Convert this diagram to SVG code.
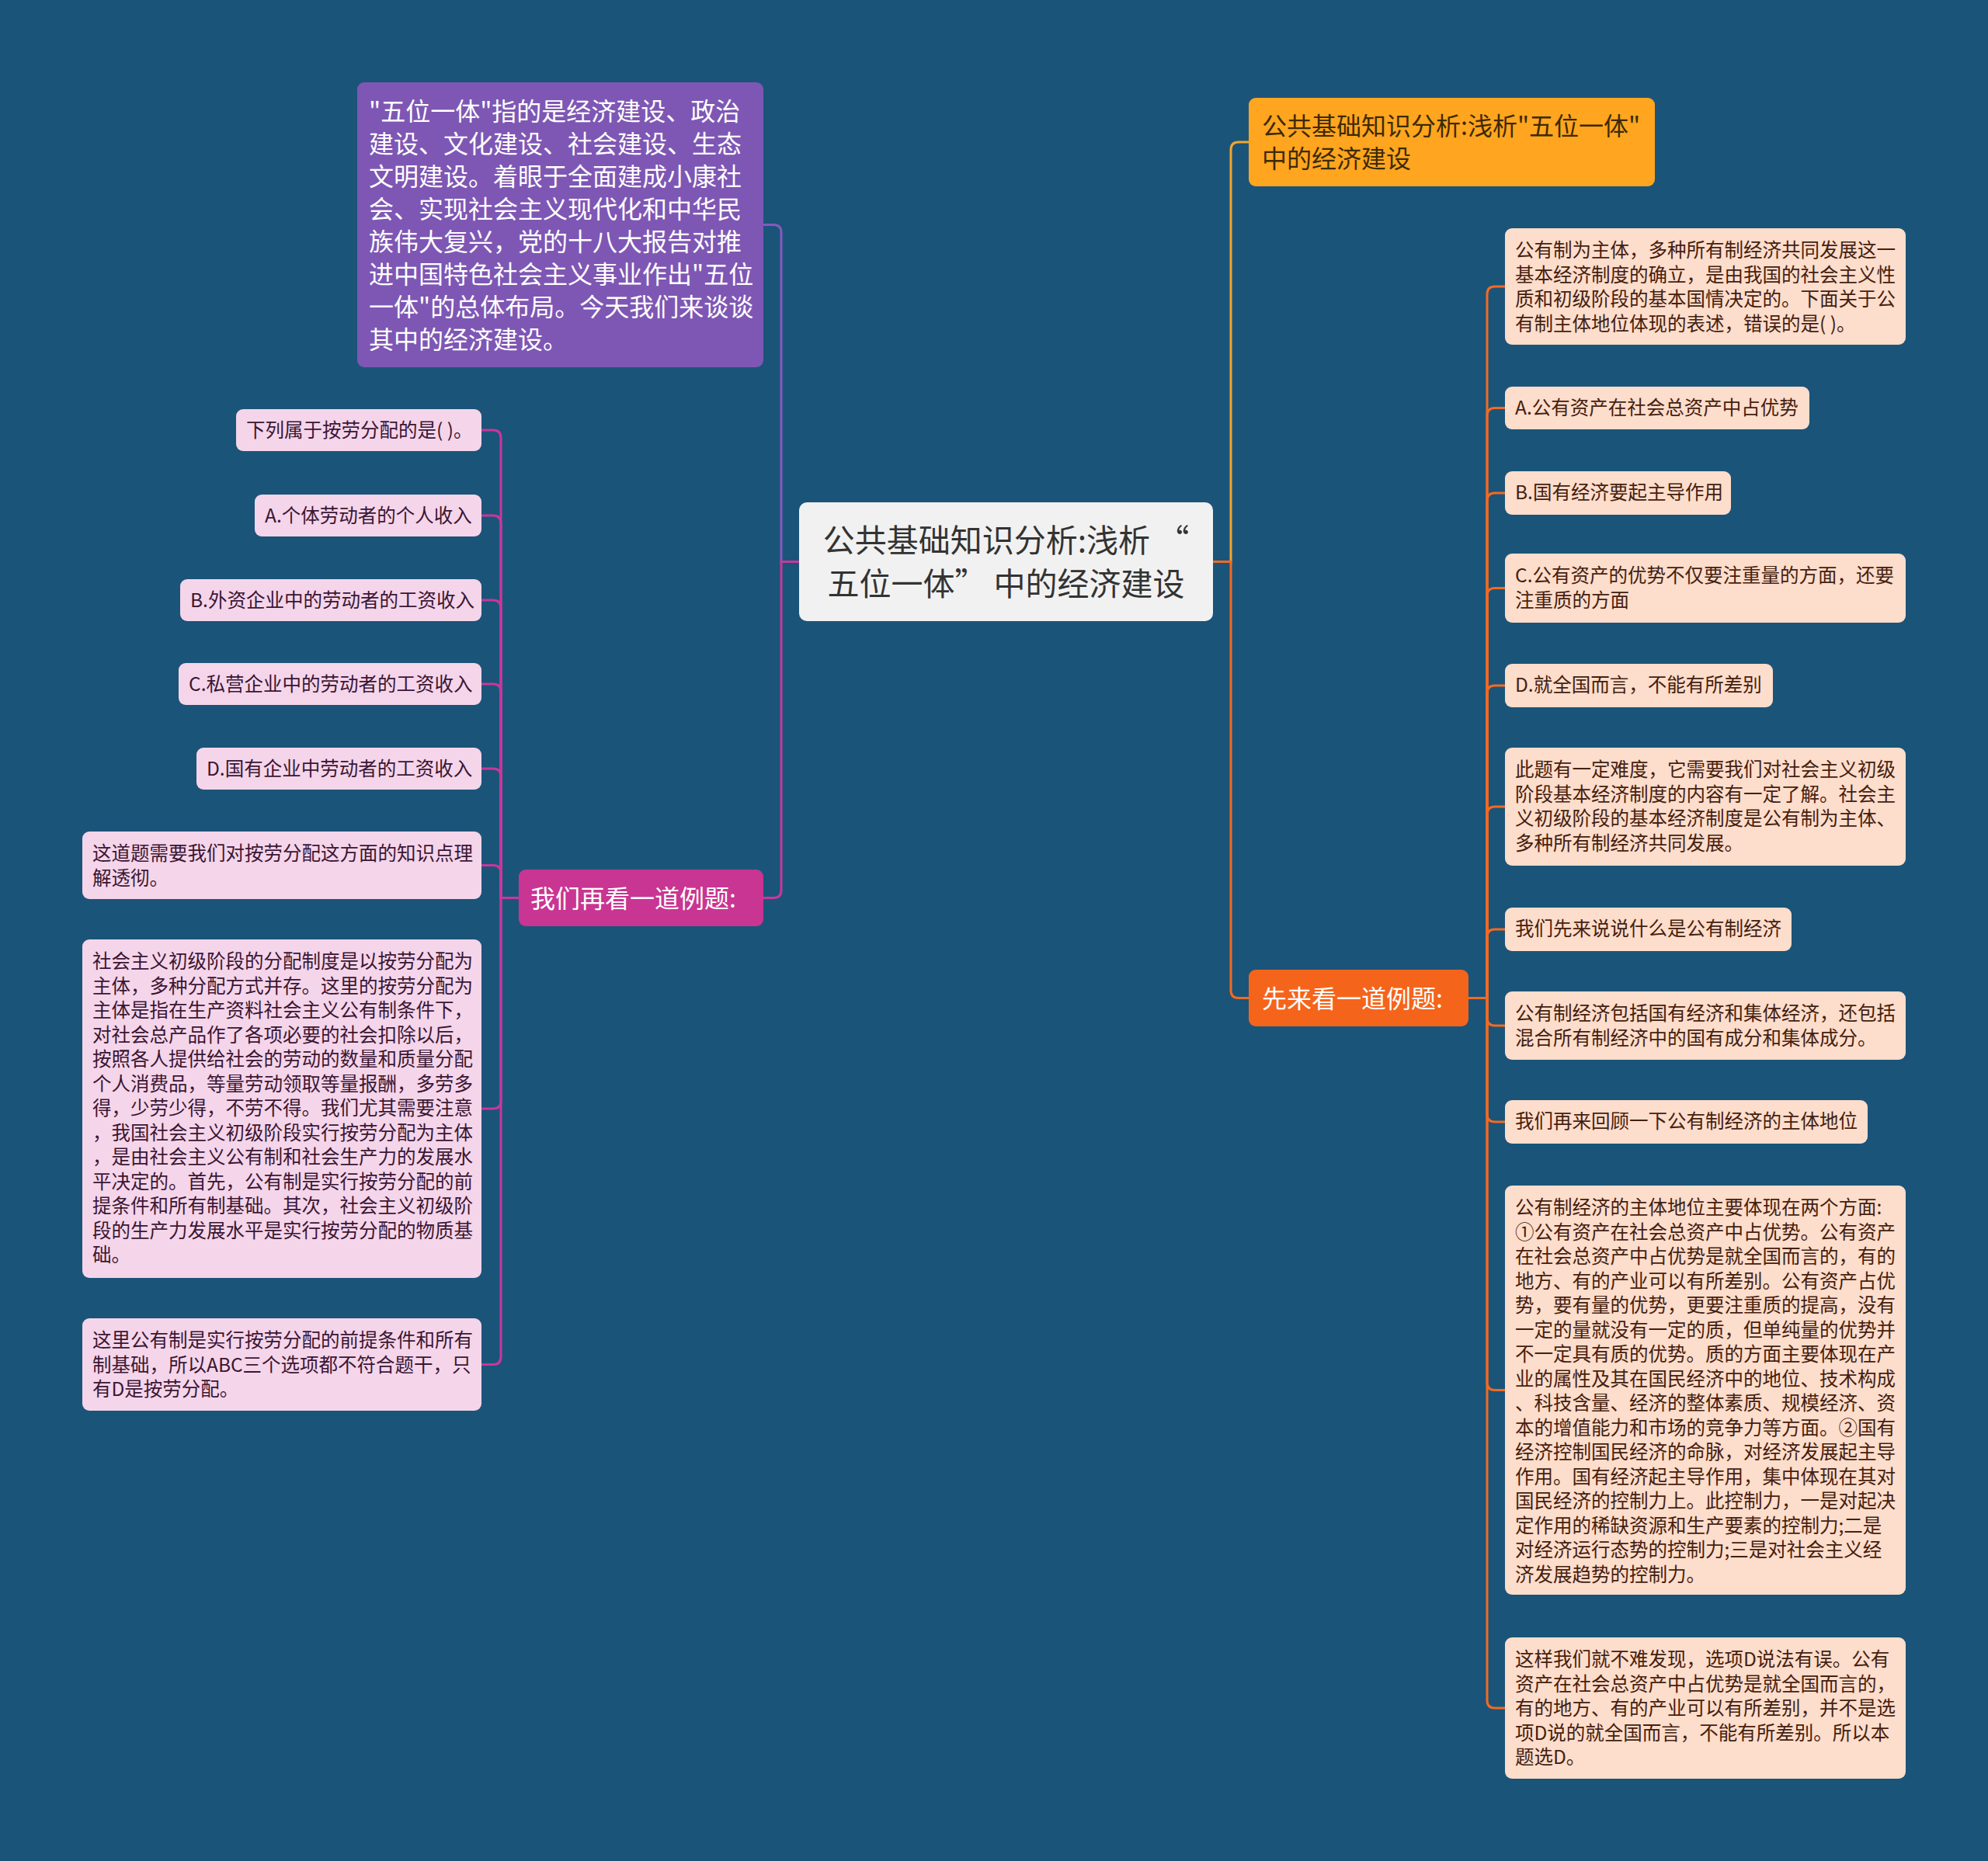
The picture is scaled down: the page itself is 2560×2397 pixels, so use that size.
<svg xmlns="http://www.w3.org/2000/svg" width="2560" height="2397" viewBox="0 0 2560 2397">
<style>
text{font-family:"Noto Sans CJK SC","Noto Sans",sans-serif;}
.c{fill:none;stroke-width:3;}
.cy{stroke:#F2A62A;}
.co{stroke:#F26A22;}
.cp{stroke:#8559BD;}
.cm{stroke:#C9379A;}
.rc{fill:#FDDDCB;}
.rt{font-size:24.5px;fill:#45200F;}
.lc{fill:#F5D5EA;}
.lt{font-size:24.5px;fill:#3A1633;}
.wt{font-size:32px;fill:#FFFFFF;}
</style>
<rect x="0" y="0" width="2560" height="2397" fill="#1B5479"/>
<g id="connectors">
<path class="c cy" d="M1562,723.5 H1585 V193 Q1585,183 1595,183 H1608"/>
<path class="c co" d="M1562,723.5 H1585 V1275.5 Q1585,1285.5 1595,1285.5 H1608"/>
<path class="c cp" d="M1029,723.5 H1006 V299.5 Q1006,289.5 996,289.5 H983"/>
<path class="c cm" d="M1029,723.5 H1006 V1146.5 Q1006,1156.5 996,1156.5 H983"/>
<path class="c co" d="M1891,1285.5 H1915 V379 Q1915,369 1925,369 H1938"/>
<path class="c co" d="M1891,1285.5 H1915 V535.5 Q1915,525.5 1925,525.5 H1938"/>
<path class="c co" d="M1891,1285.5 H1915 V645 Q1915,635 1925,635 H1938"/>
<path class="c co" d="M1891,1285.5 H1915 V767.5 Q1915,757.5 1925,757.5 H1938"/>
<path class="c co" d="M1891,1285.5 H1915 V893 Q1915,883 1925,883 H1938"/>
<path class="c co" d="M1891,1285.5 H1915 V1049 Q1915,1039 1925,1039 H1938"/>
<path class="c co" d="M1891,1285.5 H1915 V1207 Q1915,1197 1925,1197 H1938"/>
<path class="c co" d="M1891,1285.5 H1915 V1311 Q1915,1321 1925,1321 H1938"/>
<path class="c co" d="M1891,1285.5 H1915 V1435 Q1915,1445 1925,1445 H1938"/>
<path class="c co" d="M1891,1285.5 H1915 V1780.5 Q1915,1790.5 1925,1790.5 H1938"/>
<path class="c co" d="M1891,1285.5 H1915 V2190 Q1915,2200 1925,2200 H1938"/>
<path class="c cm" d="M668,1156.5 H645 V564 Q645,554 635,554 H620"/>
<path class="c cm" d="M668,1156.5 H645 V674 Q645,664 635,664 H620"/>
<path class="c cm" d="M668,1156.5 H645 V783 Q645,773 635,773 H620"/>
<path class="c cm" d="M668,1156.5 H645 V891 Q645,881 635,881 H620"/>
<path class="c cm" d="M668,1156.5 H645 V1000 Q645,990 635,990 H620"/>
<path class="c cm" d="M668,1156.5 H645 V1124.5 Q645,1114.5 635,1114.5 H620"/>
<path class="c cm" d="M668,1156.5 H645 V1418 Q645,1428 635,1428 H620"/>
<path class="c cm" d="M668,1156.5 H645 V1747.5 Q645,1757.5 635,1757.5 H620"/>
</g>
<g id="root">
<rect x="1029" y="647" width="533" height="153" rx="10" fill="#F1F1F1"/>
<text font-size="41px" fill="#333333" text-anchor="middle"><tspan x="1295.5" y="710.5">公共基础知识分析:浅析 “</tspan><tspan x="1295.5" y="766.5">五位一体” 中的经济建设</tspan></text>
</g>
<g id="n-intro">
<rect x="460" y="106" width="523" height="367" rx="9" fill="#7E57B4"/>
<text class="wt"><tspan x="475" y="154.7">"五位一体"指的是经济建设、政治</tspan><tspan x="475" y="196.7">建设、文化建设、社会建设、生态</tspan><tspan x="475" y="238.7">文明建设。着眼于全面建成小康社</tspan><tspan x="475" y="280.7">会、实现社会主义现代化和中华民</tspan><tspan x="475" y="322.7">族伟大复兴，党的十八大报告对推</tspan><tspan x="475" y="364.7">进中国特色社会主义事业作出"五位</tspan><tspan x="475" y="406.7">一体"的总体布局。今天我们来谈谈</tspan><tspan x="475" y="448.7">其中的经济建设。</tspan></text>
</g>
<g id="n-title">
<rect x="1608" y="126" width="523" height="114" rx="9" fill="#FFA51F"/>
<text font-size="32px" fill="#3D2A05"><tspan x="1625" y="174">公共基础知识分析:浅析"五位一体"</tspan><tspan x="1625" y="216">中的经济建设</tspan></text>
</g>
<g id="n-example1">
<rect x="1608" y="1249" width="283" height="73" rx="9" fill="#F5641B"/>
<text class="wt" x="1625" y="1297.5">先来看一道例题:</text>
</g>
<g id="n-example2">
<rect x="668" y="1120" width="315" height="73" rx="9" fill="#C93592"/>
<text class="wt" x="683" y="1168.5">我们再看一道例题:</text>
</g>
<g id="r1">
<rect class="rc" x="1938" y="294" width="516" height="150" rx="9"/>
<text class="rt"><tspan x="1951" y="331">公有制为主体，多种所有制经济共同发展这一</tspan><tspan x="1951" y="362.5">基本经济制度的确立，是由我国的社会主义性</tspan><tspan x="1951" y="394">质和初级阶段的基本国情决定的。下面关于公</tspan><tspan x="1951" y="425.5">有制主体地位体现的表述，错误的是( )。</tspan></text>
</g>
<g id="r2">
<rect class="rc" x="1938" y="498" width="392" height="55" rx="9"/>
<text class="rt" x="1951" y="534.3">A.公有资产在社会总资产中占优势</text>
</g>
<g id="r3">
<rect class="rc" x="1938" y="607" width="291" height="56" rx="9"/>
<text class="rt" x="1951" y="643.3">B.国有经济要起主导作用</text>
</g>
<g id="r4">
<rect class="rc" x="1938" y="713" width="516" height="89" rx="9"/>
<text class="rt"><tspan x="1951" y="750">C.公有资产的优势不仅要注重量的方面，还要</tspan><tspan x="1951" y="781.5">注重质的方面</tspan></text>
</g>
<g id="r5">
<rect class="rc" x="1938" y="855" width="345" height="56" rx="9"/>
<text class="rt" x="1951" y="891.3">D.就全国而言，不能有所差别</text>
</g>
<g id="r6">
<rect class="rc" x="1938" y="963" width="516" height="152" rx="9"/>
<text class="rt"><tspan x="1951" y="1000">此题有一定难度，它需要我们对社会主义初级</tspan><tspan x="1951" y="1031.5">阶段基本经济制度的内容有一定了解。社会主</tspan><tspan x="1951" y="1063">义初级阶段的基本经济制度是公有制为主体、</tspan><tspan x="1951" y="1094.5">多种所有制经济共同发展。</tspan></text>
</g>
<g id="r7">
<rect class="rc" x="1938" y="1169" width="369" height="56" rx="9"/>
<text class="rt" x="1951" y="1205.3">我们先来说说什么是公有制经济</text>
</g>
<g id="r8">
<rect class="rc" x="1938" y="1277" width="516" height="88" rx="9"/>
<text class="rt"><tspan x="1951" y="1314">公有制经济包括国有经济和集体经济，还包括</tspan><tspan x="1951" y="1345.5">混合所有制经济中的国有成分和集体成分。</tspan></text>
</g>
<g id="r9">
<rect class="rc" x="1938" y="1417" width="467" height="56" rx="9"/>
<text class="rt" x="1951" y="1453.3">我们再来回顾一下公有制经济的主体地位</text>
</g>
<g id="r10">
<rect class="rc" x="1938" y="1527" width="516" height="527" rx="9"/>
<text class="rt"><tspan x="1951" y="1564">公有制经济的主体地位主要体现在两个方面:</tspan><tspan x="1951" y="1595.5">①公有资产在社会总资产中占优势。公有资产</tspan><tspan x="1951" y="1627">在社会总资产中占优势是就全国而言的，有的</tspan><tspan x="1951" y="1658.5">地方、有的产业可以有所差别。公有资产占优</tspan><tspan x="1951" y="1690">势，要有量的优势，更要注重质的提高，没有</tspan><tspan x="1951" y="1721.5">一定的量就没有一定的质，但单纯量的优势并</tspan><tspan x="1951" y="1753">不一定具有质的优势。质的方面主要体现在产</tspan><tspan x="1951" y="1784.5">业的属性及其在国民经济中的地位、技术构成</tspan><tspan x="1951" y="1816">、科技含量、经济的整体素质、规模经济、资</tspan><tspan x="1951" y="1847.5">本的增值能力和市场的竞争力等方面。②国有</tspan><tspan x="1951" y="1879">经济控制国民经济的命脉，对经济发展起主导</tspan><tspan x="1951" y="1910.5">作用。国有经济起主导作用，集中体现在其对</tspan><tspan x="1951" y="1942">国民经济的控制力上。此控制力，一是对起决</tspan><tspan x="1951" y="1973.5">定作用的稀缺资源和生产要素的控制力;二是</tspan><tspan x="1951" y="2005">对经济运行态势的控制力;三是对社会主义经</tspan><tspan x="1951" y="2036.5">济发展趋势的控制力。</tspan></text>
</g>
<g id="r11">
<rect class="rc" x="1938" y="2109" width="516" height="182" rx="9"/>
<text class="rt"><tspan x="1951" y="2146">这样我们就不难发现，选项D说法有误。公有</tspan><tspan x="1951" y="2177.5">资产在社会总资产中占优势是就全国而言的，</tspan><tspan x="1951" y="2209">有的地方、有的产业可以有所差别，并不是选</tspan><tspan x="1951" y="2240.5">项D说的就全国而言，不能有所差别。所以本</tspan><tspan x="1951" y="2272">题选D。</tspan></text>
</g>
<g id="l1">
<rect class="lc" x="304" y="527" width="316" height="54" rx="9"/>
<text class="lt" x="317" y="563.3">下列属于按劳分配的是( )。</text>
</g>
<g id="l2">
<rect class="lc" x="328" y="637" width="292" height="54" rx="9"/>
<text class="lt" x="341" y="673.3">A.个体劳动者的个人收入</text>
</g>
<g id="l3">
<rect class="lc" x="232" y="746" width="388" height="54" rx="9"/>
<text class="lt" x="245" y="782.3">B.外资企业中的劳动者的工资收入</text>
</g>
<g id="l4">
<rect class="lc" x="230" y="854" width="390" height="54" rx="9"/>
<text class="lt" x="243" y="890.3">C.私营企业中的劳动者的工资收入</text>
</g>
<g id="l5">
<rect class="lc" x="253" y="963" width="367" height="54" rx="9"/>
<text class="lt" x="266" y="999.3">D.国有企业中劳动者的工资收入</text>
</g>
<g id="l6">
<rect class="lc" x="106" y="1071" width="514" height="87" rx="9"/>
<text class="lt"><tspan x="119" y="1108">这道题需要我们对按劳分配这方面的知识点理</tspan><tspan x="119" y="1139.5">解透彻。</tspan></text>
</g>
<g id="l7">
<rect class="lc" x="106" y="1210" width="514" height="436" rx="9"/>
<text class="lt"><tspan x="119" y="1247">社会主义初级阶段的分配制度是以按劳分配为</tspan><tspan x="119" y="1278.5">主体，多种分配方式并存。这里的按劳分配为</tspan><tspan x="119" y="1310">主体是指在生产资料社会主义公有制条件下，</tspan><tspan x="119" y="1341.5">对社会总产品作了各项必要的社会扣除以后，</tspan><tspan x="119" y="1373">按照各人提供给社会的劳动的数量和质量分配</tspan><tspan x="119" y="1404.5">个人消费品，等量劳动领取等量报酬，多劳多</tspan><tspan x="119" y="1436">得，少劳少得，不劳不得。我们尤其需要注意</tspan><tspan x="119" y="1467.5">，我国社会主义初级阶段实行按劳分配为主体</tspan><tspan x="119" y="1499">，是由社会主义公有制和社会生产力的发展水</tspan><tspan x="119" y="1530.5">平决定的。首先，公有制是实行按劳分配的前</tspan><tspan x="119" y="1562">提条件和所有制基础。其次，社会主义初级阶</tspan><tspan x="119" y="1593.5">段的生产力发展水平是实行按劳分配的物质基</tspan><tspan x="119" y="1625">础。</tspan></text>
</g>
<g id="l8">
<rect class="lc" x="106" y="1698" width="514" height="119" rx="9"/>
<text class="lt"><tspan x="119" y="1735">这里公有制是实行按劳分配的前提条件和所有</tspan><tspan x="119" y="1766.5">制基础，所以ABC三个选项都不符合题干，只</tspan><tspan x="119" y="1798">有D是按劳分配。</tspan></text>
</g>
</svg>
